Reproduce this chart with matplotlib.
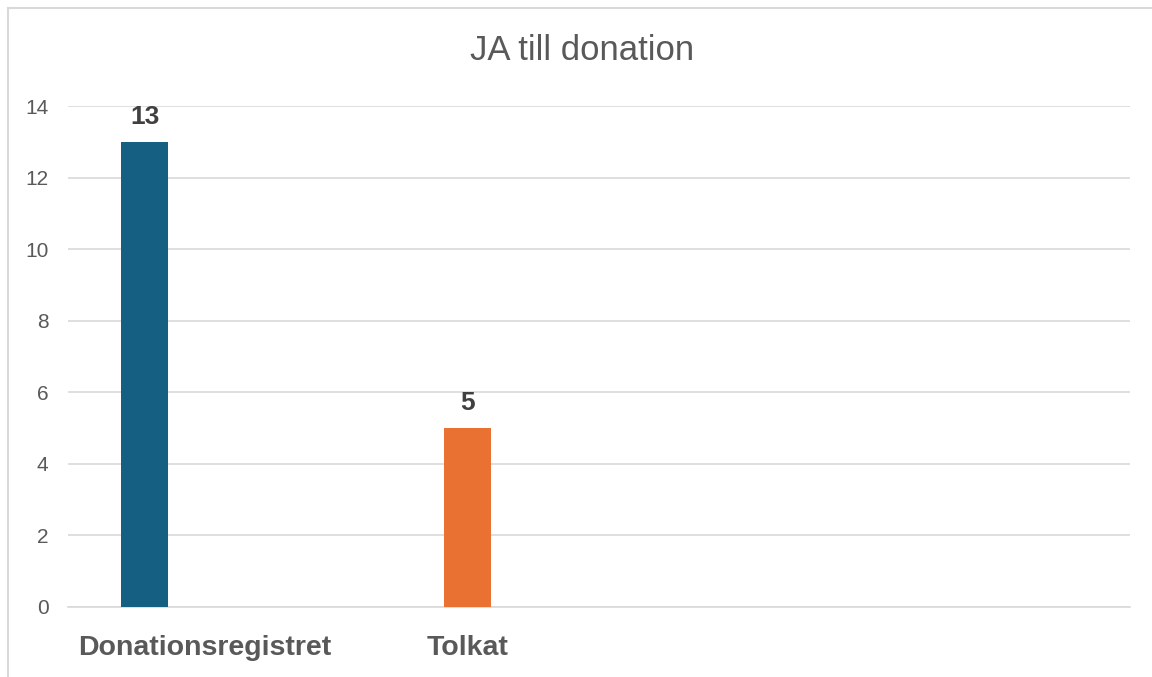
import matplotlib.pyplot as plt
from matplotlib.lines import Line2D

plt.rcParams["font.family"] = ["Liberation Sans", "DejaVu Sans"]

# data
categories = ["Donationsregistret", "Tolkat"]
values = [13, 5]
colors = ["#156082", "#E97132"]
label_pos = [0.186, 1.0]
yticks = [0, 2, 4, 6, 8, 10, 12, 14]

fig = plt.figure(figsize=(11.52, 6.77), dpi=100)
ax = fig.add_axes([0.059, 0.1034, 0.922, 0.74])

x = list(range(len(categories)))
ax.bar(x, values, width=0.146, color=colors, zorder=3)

# värdeetiketter
for xi, v in zip(x, values):
    ax.text(xi, v + 0.7, str(v), ha="center", va="center",
            fontsize=19, fontweight="bold", color="#404040", zorder=4)

ax.set_xlim(-0.238, 3.05)
ax.set_ylim(0, 14)
ax.set_yticks(yticks)
ax.set_xticks([])
ax.tick_params(axis="y", length=0, labelsize=15, labelcolor="#595959", pad=14)
ax.yaxis.grid(True, color="#D9D9D9", lw=1.2, zorder=0)
for s in ["top", "right", "left"]:
    ax.spines[s].set_visible(False)
ax.spines["bottom"].set_color("#D9D9D9")
ax.spines["bottom"].set_linewidth(1.2)

for xp, c in zip(label_pos, categories):
    ax.text(xp, -1.15, c, ha="center", va="center", fontsize=20.5,
            fontweight="bold", color="#595959")

fig.text(0.505, 0.925, "JA till donation", ha="center", va="center",
         fontsize=25, color="#595959")

# ram (vänster + topp)
fig.add_artist(Line2D([0.007, 0.007], [0, 0.988], transform=fig.transFigure,
                      color="#D9D9D9", lw=1.5))
fig.add_artist(Line2D([0.007, 1.0], [0.988, 0.988], transform=fig.transFigure,
                      color="#D9D9D9", lw=1.5))

fig.savefig("out.png", dpi=100)
